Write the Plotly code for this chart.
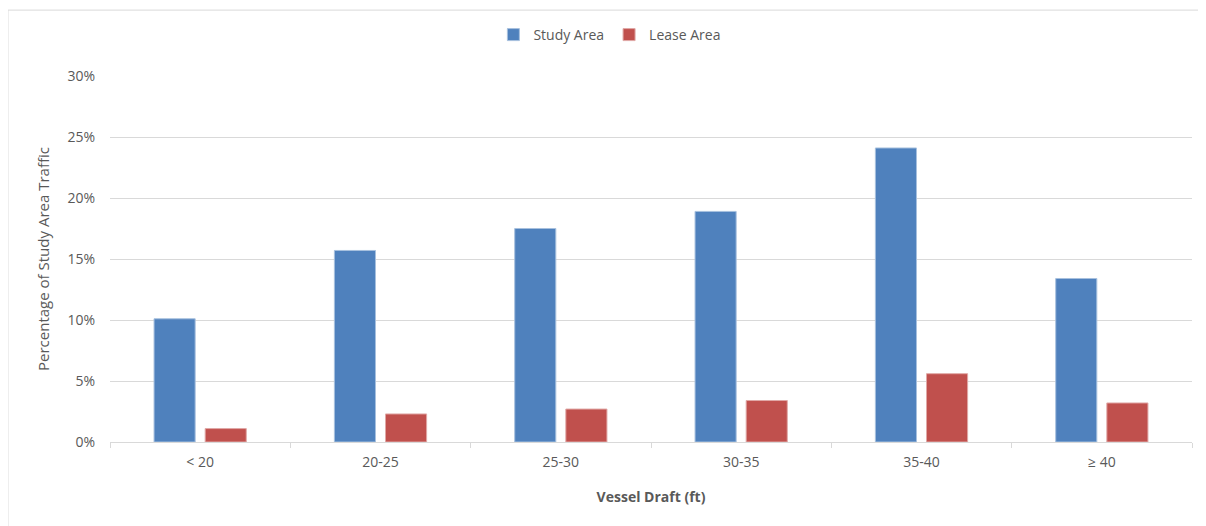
# Vessel draft distribution: share of study area traffic, study area vs lease area
import plotly.graph_objects as go

categories = ["< 20", "20-25", "25-30", "30-35", "35-40", "≥ 40"]
study_area = [10.1, 15.7, 17.5, 18.9, 24.1, 13.4]
lease_area = [1.1, 2.3, 2.7, 3.4, 5.6, 3.2]
y_ticks = [0, 5, 10, 15, 20, 25, 30]
y_tick_labels = ["0%", "5%", "10%", "15%", "20%", "25%", "30%"]

grey = "#595959"
font_family = "'Open Sans', Lato, sans-serif"

fig = go.Figure()
fig.add_trace(go.Bar(x=categories, y=study_area, name="Study Area",
                     marker=dict(color="#4f81bd", line=dict(color="#a7c0de", width=1))))
fig.add_trace(go.Bar(x=categories, y=lease_area, name="Lease Area",
                     marker=dict(color="#c0504d", line=dict(color="#e0a8a6", width=1))))

# outer chart border (only top/left visible in the reference)
fig.add_shape(type="line", xref="paper", yref="paper", x0=-0.0943, x1=1.05, y0=1.18, y1=1.18,
              line=dict(color="#d9d9d9", width=1))
fig.add_shape(type="line", xref="paper", yref="paper", x0=-0.0943, x1=-0.0943, y0=-0.3, y1=1.18,
              line=dict(color="#d9d9d9", width=1))

# page body has an 8px margin, so the figure is a bit smaller than the window
fig.update_layout(
    width=1198, height=518,
    margin=dict(l=102, r=14, t=67, b=84),
    paper_bgcolor="white", plot_bgcolor="white",
    barmode="group", bargap=0.433, bargroupgap=0.196,
    font=dict(family=font_family, size=14, color=grey),
    showlegend=True,
    legend=dict(orientation="h", x=0.462, xanchor="center", y=1.109, yanchor="middle",
                font=dict(size=14, color=grey), traceorder="normal", itemwidth=30),
    xaxis=dict(
        title=dict(text="<b>Vessel Draft (ft)</b>", font=dict(size=14, color=grey), standoff=22),
        showline=True, linecolor="#d9d9d9", linewidth=1,
        ticks="outside", tickson="boundaries", tickcolor="#d9d9d9", ticklen=5,
        ticklabelstandoff=7,
        tickfont=dict(size=14, color=grey), showgrid=False,
    ),
    yaxis=dict(
        title=dict(text="Percentage of Study Area Traffic", font=dict(size=15, color=grey), standoff=14),
        range=[0, 30], tickvals=y_ticks, ticktext=y_tick_labels,
        showgrid=True, gridcolor="#d9d9d9", gridwidth=1,
        zeroline=False, showline=False, ticks="", ticklabelstandoff=14,
        tickfont=dict(size=14, color=grey),
    ),
)

fig.write_html("out.html")
